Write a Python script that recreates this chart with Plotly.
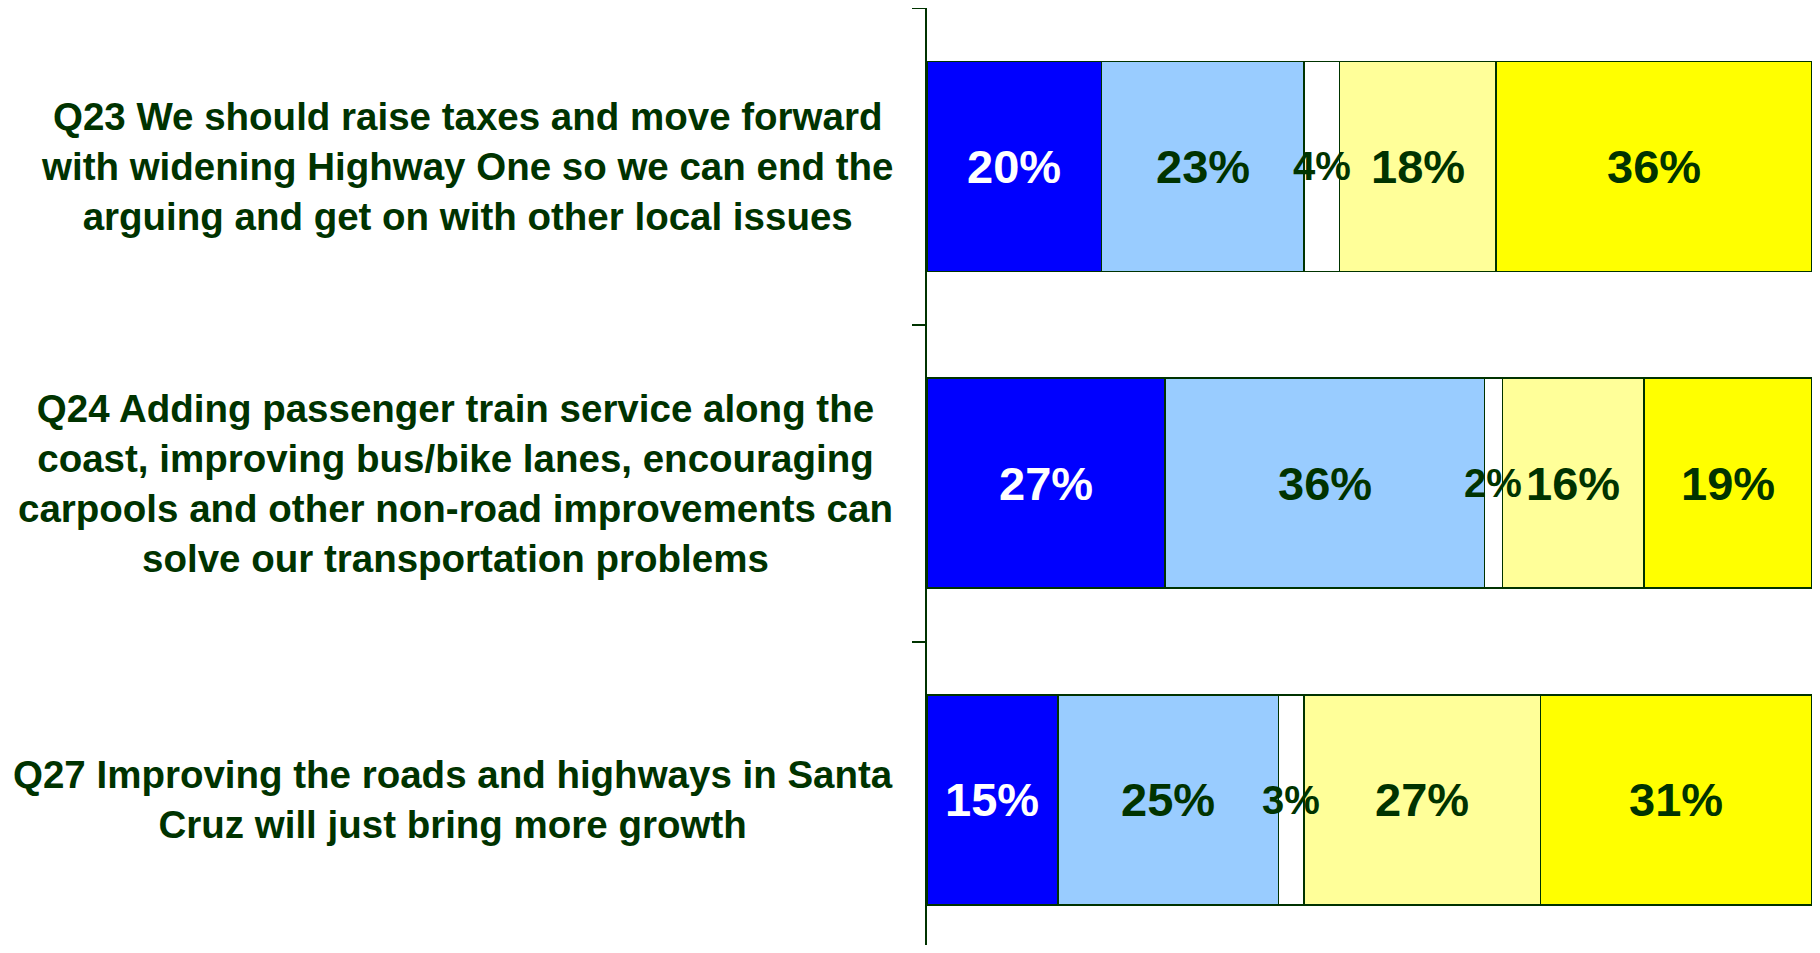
import plotly.graph_objects as go

# Categories (questions)
categories = ["Q23", "Q24", "Q27"]
question_labels = [
    "Q23 We should raise taxes and move forward<br>with widening Highway One so we can end the<br>arguing and get on with other local issues",
    "Q24 Adding passenger train service along the<br>coast, improving bus/bike lanes, encouraging<br>carpools and other non-road improvements can<br>solve our transportation problems",
    "Q27 Improving the roads and highways in Santa<br>Cruz will just bring more growth",
]

# Series values (percent, unrounded)
seg1_values = [19.7, 26.9, 14.8]
seg2_values = [22.9, 36.1, 24.9]
seg3_values = [4.0, 2.0, 2.9]
seg4_values = [17.7, 16.0, 26.7]
seg5_values = [35.7, 19.0, 30.7]

# Displayed labels
seg1_labels = ["20%", "27%", "15%"]
seg2_labels = ["23%", "36%", "25%"]
seg3_labels = ["4%", "2%", "3%"]
seg4_labels = ["18%", "16%", "27%"]
seg5_labels = ["36%", "19%", "31%"]

DARK = "#003300"
FONT = "Liberation Sans, Arial, sans-serif"

series = [
    (seg1_values, seg1_labels, "#0000FF", "#FFFFFF", 47),
    (seg2_values, seg2_labels, "#99CCFF", DARK, 47),
    (seg3_values, seg3_labels, "#FFFFFF", DARK, 40),
    (seg4_values, seg4_labels, "#FFFF99", DARK, 47),
    (seg5_values, seg5_labels, "#FFFF00", DARK, 47),
]

fig = go.Figure()
bases = [0.0] * len(categories)
for vals, labels, color, tcolor, fsize in series:
    fig.add_trace(go.Bar(
        x=vals, y=categories, orientation="h",
        marker=dict(color=color, line=dict(color=DARK, width=1.5)),
        hoverinfo="skip", showlegend=False,
    ))
    # value labels drawn on top of all bars, centred on each segment
    for i, (cat, v, lab) in enumerate(zip(categories, vals, labels)):
        fig.add_annotation(
            x=bases[i] + v / 2, xref="x", y=cat, yref="y",
            text=lab, showarrow=False, xanchor="center", yanchor="middle",
            font=dict(family=FONT, size=fsize, color=tcolor, weight="bold"),
        )
        bases[i] += v

for cat, lab in zip(categories, question_labels):
    fig.add_annotation(
        x=-0.0362, xref="paper", xanchor="right",
        y=cat, yref="y", yanchor="middle",
        text=lab, align="center", showarrow=False,
        font=dict(family=FONT, size=38.5, color=DARK, weight="bold"),
    )

fig.update_layout(
    barmode="stack", bargap=0.337,
    width=1804, height=937, autosize=False,
    margin=dict(l=919, r=0, t=0, b=0, pad=0),
    paper_bgcolor="white", plot_bgcolor="white",
    xaxis=dict(visible=False, range=[0, 100], fixedrange=True),
    yaxis=dict(
        type="category", categoryorder="array", categoryarray=categories,
        range=[2.458, -0.5], showgrid=False, zeroline=False,
        showline=True, linecolor=DARK, linewidth=2,
        ticks="outside", ticklen=13, tickwidth=2, tickcolor=DARK,
        tickson="boundaries", showticklabels=False,
    ),
)

fig.write_html("out.html")
